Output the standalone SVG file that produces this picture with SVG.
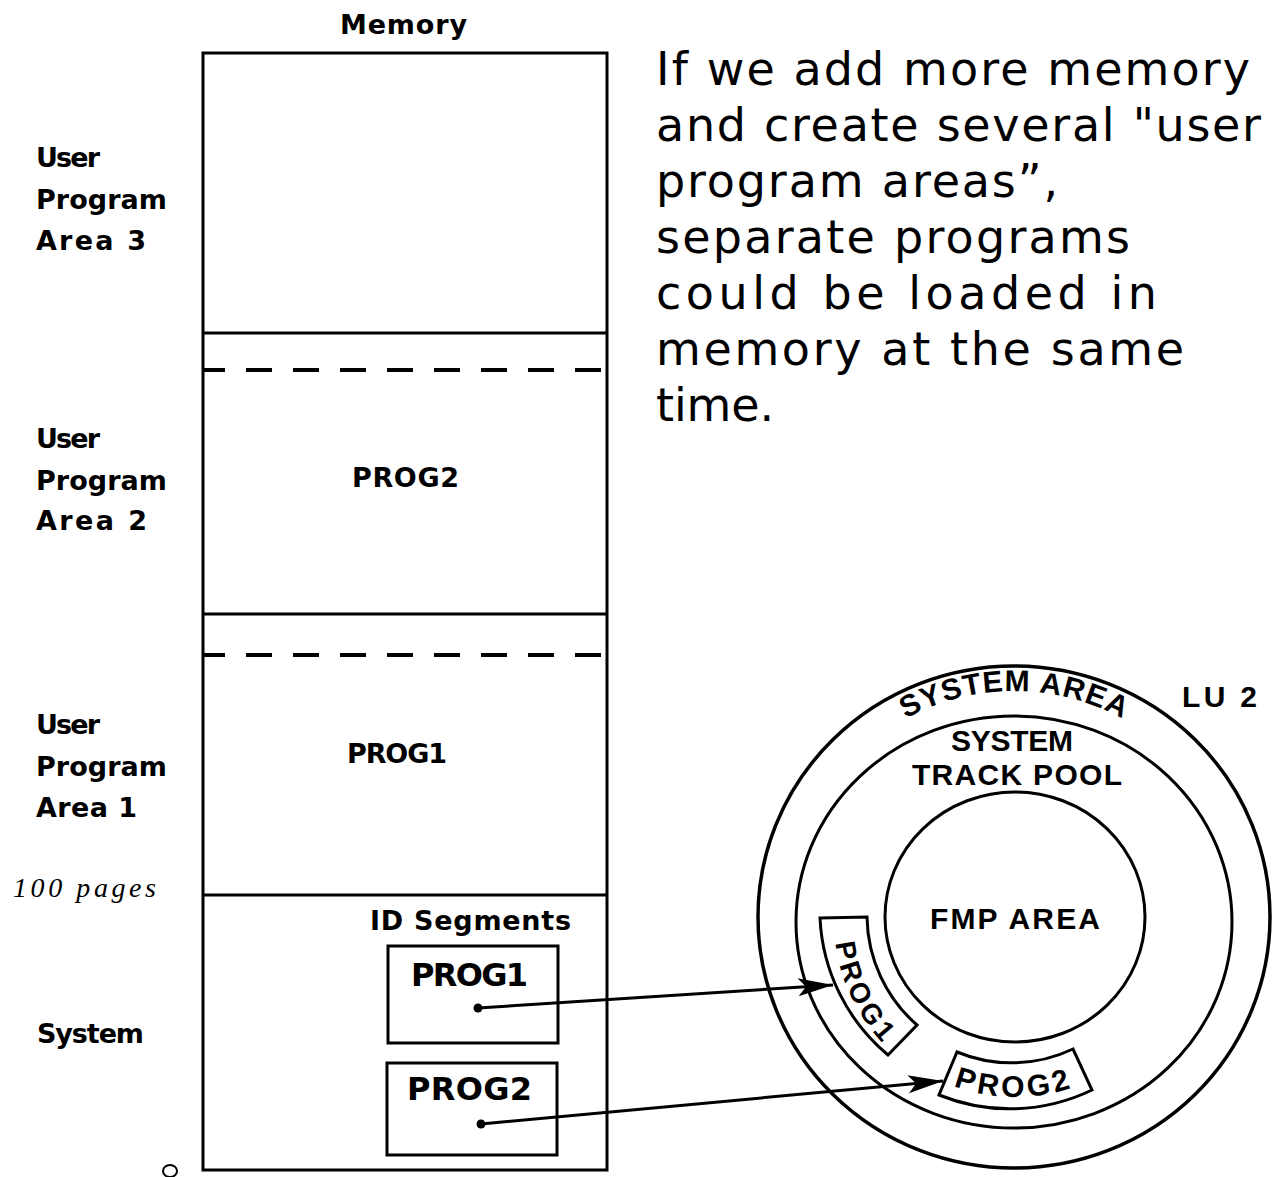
<svg xmlns="http://www.w3.org/2000/svg" width="1276" height="1177" viewBox="0 0 1276 1177">
<defs>
<style>
.ln{fill:none;stroke:#000;stroke-width:3}
.dash{fill:none;stroke:#000;stroke-width:4;stroke-dasharray:26 21;stroke-dashoffset:4}
.lbl{font-family:"DejaVu Sans","Liberation Sans",sans-serif;font-weight:bold;font-size:27px;fill:#000}
.big{font-size:32px}
.para{font-family:"DejaVu Sans","Liberation Sans",sans-serif;font-size:46px;fill:#000}
.disk{font-family:"Liberation Sans",Arial,sans-serif;font-weight:bold;font-size:30px;fill:#000}
.hand{font-family:"Liberation Serif",serif;font-style:italic;font-size:28px;fill:#000}
.conn{fill:none;stroke:#000;stroke-width:3}
</style>
<marker id="ah" viewBox="-36 -12 38 24" refX="0" refY="0" markerWidth="38" markerHeight="24" markerUnits="userSpaceOnUse" orient="auto"><path d="M0,0 L-35,-9 L-27,0 L-35,9 Z" fill="#000"/></marker>
<path id="arcSys" d="M800.7,840.4 A227,227 0 0 1 1227.3,840.4"/>
<path id="arcP1" d="M840.2,873.2 A181,181 0 0 0 938.5,1084"/>
<path id="arcP2" d="M887.7,1043 A177,177 0 0 0 1138,1047.3"/>
</defs>
<rect width="1276" height="1177" fill="#fff"/>

<g id="memory">
<text class="lbl" x="340" y="34" textLength="127">Memory</text>
<rect class="ln" x="203" y="53" width="404" height="1117"/>
<line class="ln" x1="203" y1="333" x2="607" y2="333"/>
<line class="ln" x1="203" y1="614" x2="607" y2="614"/>
<line class="ln" x1="203" y1="895" x2="607" y2="895"/>
<line class="dash" x1="203" y1="370" x2="607" y2="370"/>
<line class="dash" x1="203" y1="655" x2="607" y2="655"/>
<text class="lbl" x="352" y="487" textLength="107">PROG2</text>
<text class="lbl" x="347" y="763" textLength="100">PROG1</text>
</g>

<g id="label-upa3">
<text class="lbl" x="36" y="167" textLength="64">User</text>
<text class="lbl" x="36" y="209" textLength="131">Program</text>
<text class="lbl" x="36" y="250" textLength="110">Area 3</text>
</g>
<g id="label-upa2">
<text class="lbl" x="36" y="448" textLength="64">User</text>
<text class="lbl" x="36" y="490" textLength="131">Program</text>
<text class="lbl" x="36" y="530" textLength="111">Area 2</text>
</g>
<g id="label-upa1">
<text class="lbl" x="36" y="734" textLength="64">User</text>
<text class="lbl" x="36" y="776" textLength="131">Program</text>
<text class="lbl" x="36" y="817" textLength="101">Area 1</text>
</g>
<g id="label-system">
<text class="lbl" x="37" y="1043" textLength="107">System</text>
<text class="hand" x="13" y="897" textLength="143">100 pages</text>
<ellipse class="ln" cx="170" cy="1171" rx="7" ry="6" style="stroke-width:2"/>
</g>

<g id="id-segments">
<text class="lbl" x="370" y="930" textLength="201">ID Segments</text>
</g>
<g id="id-prog1">
<rect class="ln" x="388" y="946" width="170" height="97"/>
<text class="lbl big" x="411" y="986" textLength="117">PROG1</text>
<circle cx="478" cy="1008" r="4.5" fill="#000"/>
</g>
<g id="id-prog2">
<rect class="ln" x="387" y="1063" width="170" height="92"/>
<text class="lbl big" x="407" y="1100" textLength="125">PROG2</text>
<circle cx="481" cy="1124" r="4.5" fill="#000"/>
</g>

<g id="note">
<text class="para" x="656" y="85" textLength="594">If we add more memory</text>
<text class="para" x="656" y="141" textLength="605">and create several "user</text>
<text class="para" x="656" y="197" textLength="402">program areas”,</text>
<text class="para" x="656" y="253" textLength="474">separate programs</text>
<text class="para" x="656" y="309" textLength="501">could be loaded in</text>
<text class="para" x="656" y="365" textLength="528">memory at the same</text>
<text class="para" x="656" y="421" textLength="118">time.</text>
</g>

<g id="disk">
<ellipse class="ln" cx="1014" cy="917" rx="256" ry="251" style="stroke-width:3.5"/>
<ellipse class="ln" cx="1014" cy="922" rx="218" ry="206"/>
<ellipse class="ln" cx="1015" cy="917" rx="130" ry="125"/>
<text class="disk"><textPath href="#arcSys" startOffset="50%" text-anchor="middle" textLength="226">SYSTEM AREA</textPath></text>
<text class="disk" x="1182" y="707" textLength="75">LU 2</text>
<text class="disk" x="951" y="751" textLength="122">SYSTEM</text>
<text class="disk" x="912" y="785" textLength="210">TRACK POOL</text>
<text class="disk" x="930" y="929" textLength="170">FMP AREA</text>
</g>
<g id="disk-prog1">
<path class="ln" d="M820,918 L867,917 A146,146 0 0 0 917,1025 L888,1055 A190,190 0 0 1 820,918 Z"/>
<text class="disk" style="font-size:28px"><textPath href="#arcP1" startOffset="50%" text-anchor="middle" textLength="112">PROG1</textPath></text>
</g>
<g id="disk-prog2">
<path class="ln" d="M957,1052 A143,143 0 0 0 1073,1049 L1092,1090 A189,189 0 0 1 939,1095 Z"/>
<text class="disk"><textPath href="#arcP2" startOffset="50%" text-anchor="middle" textLength="120">PROG2</textPath></text>
</g>

<g id="connectors">
<line class="conn" x1="478" y1="1008" x2="833" y2="985" marker-end="url(#ah)"/>
<line class="conn" x1="481" y1="1124" x2="943" y2="1081" marker-end="url(#ah)"/>
</g>
</svg>
